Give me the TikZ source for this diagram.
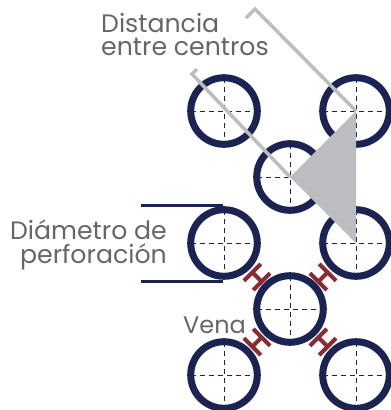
\documentclass[tikz,border=0pt]{standalone}
\usepackage{fontspec}
\setmainfont{Poppins}
\definecolor{holeblue}{HTML}{1A2352}
\definecolor{veinred}{HTML}{8C2A33}
\definecolor{pitchgray}{HTML}{BCBDC0}
\definecolor{labelgray}{HTML}{666666}
\tikzset{
	hole/.style={circle,draw=holeblue,line width=7pt,inner sep=0pt,outer sep=0pt,minimum size=66.6pt},
	axisline/.style={holeblue,line width=1pt,dash pattern=on 5pt off 4pt},
	label/.style={text=labelgray,font=\fontsize{25.2}{23.5}\selectfont,inner sep=0pt},
	pitchline/.style={pitchgray,line width=3.5pt},
	sizeline/.style={holeblue,line width=3pt},
	veinbar/.style={veinred,line width=4pt}
}
\begin{document}
\begin{tikzpicture}[x=1pt,y=-1pt]
	\useasboundingbox (0,0) rectangle (391,410);
	% holes
	\foreach \name/\cx/\cy in {tl/224/111,tr/356/111,mt/290/177,ml/224/243,mr/356/243,mb/290/309,bl/224/375,br/356/375}{
		\node[hole] (\name) at (\cx,\cy) {};
		\draw[axisline] (\name.north) -- (\name.south);
		\draw[axisline] (\name.west) -- (\name.east);
	}
	% pitch triangle
	\fill[pitchgray] (tr.center) -- (mt.center) -- (mr.center) -- cycle;
	\coordinate (pa) at (255,9);
	\coordinate (pb) at (246,18);
	\coordinate (pc) at (192,74);
	\coordinate (pd) at (197,69);
	\draw[pitchline] (tr.center) -- (pa) -- (pb);
	\draw[pitchline] (mt.center) -- (pc) -- (pd);
	% diameter
	\coordinate (da) at (141,205);
	\coordinate (db) at (223,205);
	\coordinate (dc) at (141,281);
	\coordinate (dd) at (223,281);
	\draw[sizeline] (da) -- (db);
	\draw[sizeline] (dc) -- (dd);
	% veins
	\foreach \vx/\vy/\rot in {257/277/45,323/277/-45,257/342/-45,323/342/45}{
		\begin{scope}[shift={(\vx,\vy)},rotate=\rot]
			\draw[veinbar] (-12,-6.5) -- (12,-6.5);
			\draw[veinbar] (-12,6.5) -- (12,6.5);
			\draw[veinbar] (0,-6.5) -- (0,6.5);
		\end{scope}
	}
	% labels
	\node[label,align=left,anchor=base west] (dist) at (101,55.5) {Distancia\\entre centros};
	\node[label,align=right,anchor=base east] (diam) at (167,263) {Diámetro de\\perforación};
	\node[label,font=\fontsize{24}{24}\selectfont,anchor=base west] (vena) at (183,333) {Vena};
\end{tikzpicture}
\end{document}
